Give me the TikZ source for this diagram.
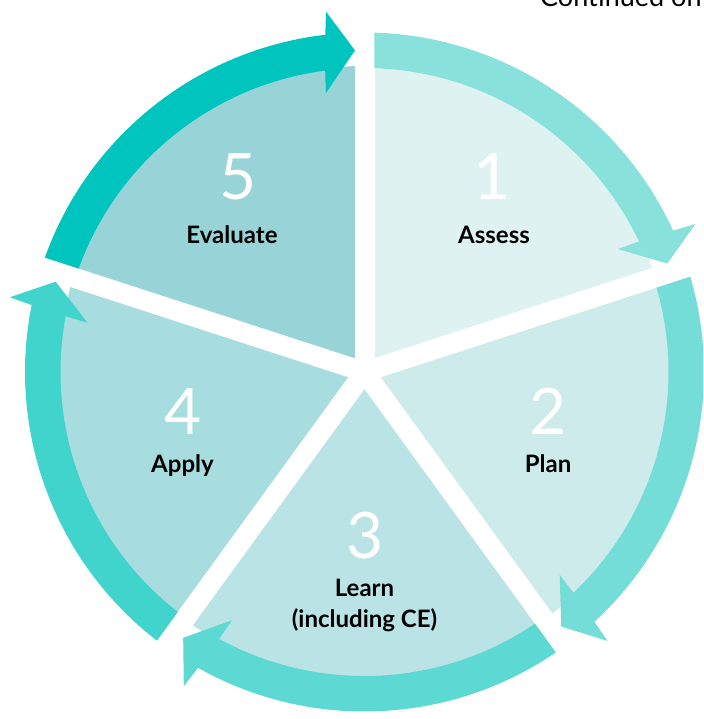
\documentclass[tikz,border=0pt]{standalone}
\usepackage{fontspec}
\setmainfont{Lato}
\definecolor{secA}{HTML}{DFF2F2}
\definecolor{secB}{HTML}{CDEBEB}
\definecolor{secC}{HTML}{BAE3E5}
\definecolor{secD}{HTML}{A8DDDF}
\definecolor{secE}{HTML}{98D4D7}
\definecolor{arrA}{HTML}{89E1DC}
\definecolor{arrB}{HTML}{74DDD7}
\definecolor{arrC}{HTML}{5CD9D3}
\definecolor{arrD}{HTML}{40D4CD}
\definecolor{arrE}{HTML}{00C4BE}
\newcommand\cycarrow[2]{%
  \pgfmathsetmacro\cyTa{#1-asin(10/304)}%
  \pgfmathsetmacro\cyTb{#1-asin(10/339.5)}%
  \pgfmathsetmacro\cyTip{#1-72+1.7}%
  \pgfmathsetmacro\cyOb{\cyTip+4.93}%
  \pgfmathsetmacro\cyOw{\cyTip+4.4}%
  \pgfmathsetmacro\cyIw{\cyTip+6.2}%
  \pgfmathsetmacro\cyIb{\cyTip+5.73}%
  \fill[#2] (\cyTa:304pt) -- (\cyTb:339.5pt)
    arc[start angle=\cyTb, end angle=\cyOb, radius=339.5pt]
    -- (\cyOw:362.5pt) -- (\cyTip:321.75pt) -- (\cyIw:281.5pt) -- (\cyIb:304pt)
    arc[start angle=\cyIb, end angle=\cyTa, radius=304pt] -- cycle;
}
\tikzset{
  digit/.style={text=white, font=\fontsize{64}{64}\selectfont, inner sep=0pt, anchor=base},
  lab/.style={text=black, font=\fontsize{24}{31}\selectfont\bfseries, inner sep=0pt, anchor=base, align=center},
  gapline/.style={white, line width=20pt}
}
\begin{document}
\begin{tikzpicture}[x=1pt,y=1pt]
\useasboundingbox (-364.5,-347) rectangle (338.5,372);
\clip (-364.5,-347) rectangle (338.5,372);
% sectors
\fill[secA] (0,0) -- (18:306pt) arc[start angle=18, end angle=90, radius=306pt] -- cycle;
\fill[secB] (0,0) -- (-54:306pt) arc[start angle=-54, end angle=18, radius=306pt] -- cycle;
\fill[secC] (0,0) -- (-126:306pt) arc[start angle=-126, end angle=-54, radius=306pt] -- cycle;
\fill[secD] (0,0) -- (162:306pt) arc[start angle=162, end angle=234, radius=306pt] -- cycle;
\fill[secE] (0,0) -- (90:306pt) arc[start angle=90, end angle=162, radius=306pt] -- cycle;
% gaps
\foreach \g in {90,18,-54,-126,162} \draw[gapline] (0,0) -- (\g:318pt);
\fill[white] (0,0) circle[radius=12pt];
% arrows
\cycarrow{90}{arrA}
\cycarrow{18}{arrB}
\cycarrow{-54}{arrC}
\cycarrow{-126}{arrD}
\cycarrow{162}{arrE}
% labels
\node[digit] (n1) at (127.5,172) {1};
\node[lab] (l1) at (129.5,128) {Assess};
\node[digit] (n2) at (183.5,-63) {2};
\node[lab] (l2) at (183.5,-101) {Plan};
\node[digit] (n3) at (0.5,-186) {3};
\node[lab, anchor=north] (l3) at (0,-207) {Learn\\(including CE)};
\node[digit] (n4) at (-181.5,-63) {4};
\node[lab] (l4) at (-182,-101) {Apply};
\node[digit] (n5) at (-126.5,172) {5};
\node[lab] (l5) at (-132.5,128) {Evaluate};
\node[anchor=base west, inner sep=0pt, font=\fontsize{27}{27}\selectfont] (cont) at (175.5,365) {Continued on};
\end{tikzpicture}
\end{document}
